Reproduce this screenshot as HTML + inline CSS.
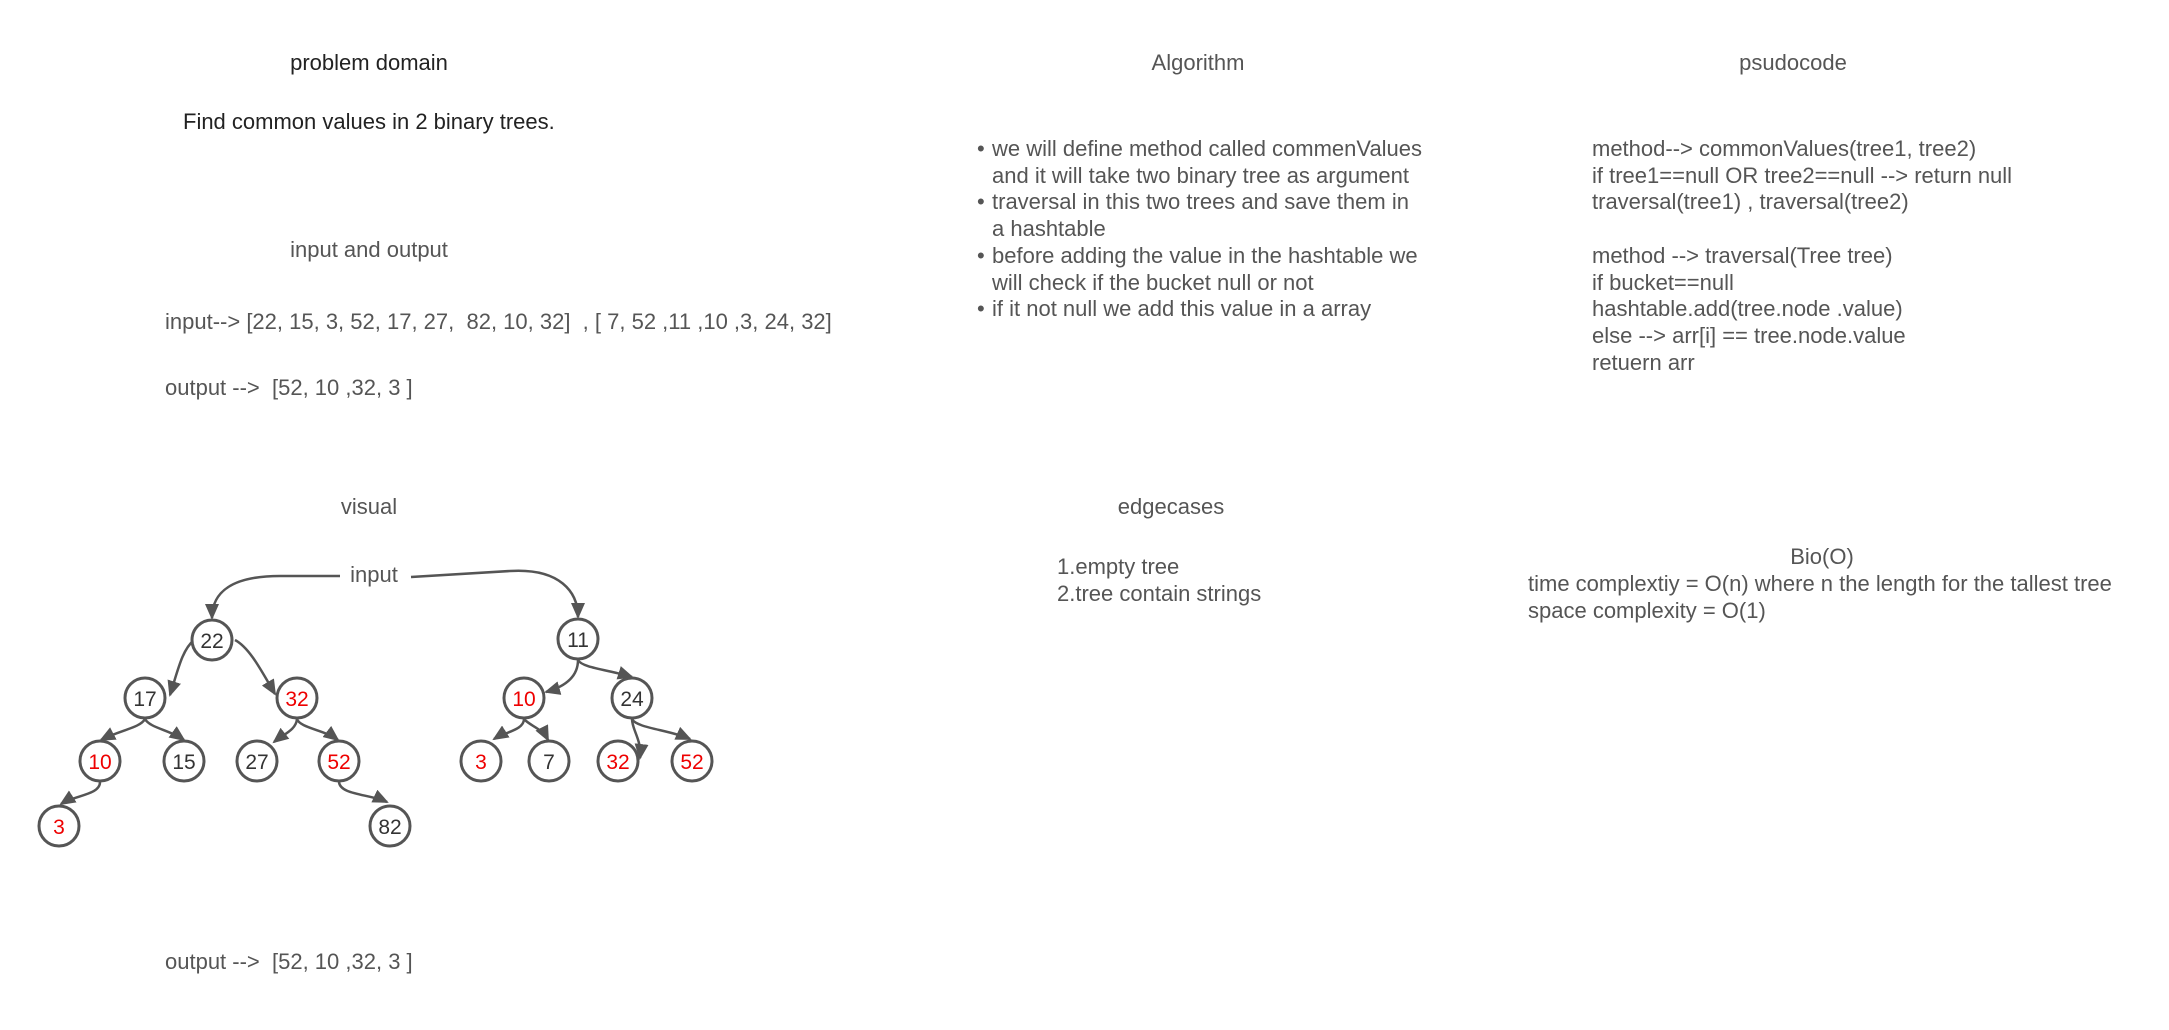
<!DOCTYPE html>
<html><head><meta charset="utf-8"><style>
html,body{margin:0;padding:0;background:#fff;width:2169px;height:1030px;overflow:hidden;position:relative;font-family:"Liberation Sans",sans-serif;}
.t{position:absolute;font-size:22px;color:#555;white-space:pre;line-height:26.7px;}
.c{transform:translateX(-50%);}
.d{color:#222;}
</style></head><body>
<div class="t c d" style="left:369px;top:50px">problem domain</div>
<div class="t d" style="left:183px;top:109px">Find common values in 2 binary trees.</div>
<div class="t c" style="left:369px;top:237px">input and output</div>
<div class="t" style="left:165px;top:309px">input--&gt; [22, 15, 3, 52, 17, 27,  82, 10, 32]  , [ 7, 52 ,11 ,10 ,3, 24, 32]</div>
<div class="t" style="left:165px;top:375px">output --&gt;  [52, 10 ,32, 3 ]</div>
<div class="t c" style="left:369px;top:494px">visual</div>
<div class="t" style="left:165px;top:949px">output --&gt;  [52, 10 ,32, 3 ]</div>
<div class="t c" style="left:1198px;top:50px">Algorithm</div>
<div class="t" style="left:977px;top:136px">•
 
•
 
•
 
•</div>
<div class="t" style="left:992px;top:136px">we will define method called commenValues
and it will take two binary tree as argument
traversal in this two trees and save them in
a hashtable
before adding the value in the hashtable we
will check if the bucket null or not
if it not null we add this value in a array</div>
<div class="t c" style="left:1793px;top:50px">psudocode</div>
<div class="t" style="left:1592px;top:136px">method--&gt; commonValues(tree1, tree2)
if tree1==null OR tree2==null --&gt; return null
traversal(tree1) , traversal(tree2)

method --&gt; traversal(Tree tree)
if bucket==null
hashtable.add(tree.node .value)
else --&gt; arr[i] == tree.node.value
retuern arr</div>
<div class="t c" style="left:1171px;top:494px">edgecases</div>
<div class="t" style="left:1057px;top:554px">1.empty tree
2.tree contain strings</div>
<div class="t c" style="left:1822px;top:544px">Bio(O)</div>
<div class="t" style="left:1528px;top:571px">time complextiy = O(n) where n the length for the tallest tree
space complexity = O(1)</div>

<svg width="2169" height="1030" style="position:absolute;left:0;top:0" xmlns="http://www.w3.org/2000/svg">
<defs><marker id="a" markerUnits="userSpaceOnUse" markerWidth="16" markerHeight="14" refX="14" refY="7" orient="auto"><path d="M0,0 L16,7 L0,14 z" fill="#555"/></marker></defs>
<g fill="none" stroke="#555" stroke-width="2.5" marker-end="url(#a)">
<path d="M340 576 L280 576 C232 576 212 592 212 618"/>
<path d="M411 577 L510 571 C560 568 578 592 578 617"/>
<path d="M194 640 C182 650 178 670 170 695"/>
<path d="M235 640 C250 648 262 672 275 694"/>
<path d="M145 719 C140 728 120 730 101 740"/>
<path d="M145 719 C150 728 170 730 184 740"/>
<path d="M297 719 C296 730 284 734 274 742"/>
<path d="M297 719 C300 728 325 730 338 740"/>
<path d="M100 782 C100 795 75 795 61 804"/>
<path d="M339 782 C340 795 370 794 387 802"/>
<path d="M578 660 C578 680 560 688 546 692"/>
<path d="M578 660 C582 668 610 670 632 677"/>
<path d="M524 719 C524 730 505 732 494 739"/>
<path d="M524 719 C530 726 542 728 548 740"/>
<path d="M632 719 C632 730 642 740 640 758"/>
<path d="M632 719 C636 728 670 730 690 739"/>
</g>
<g stroke="#555" stroke-width="3" fill="#fff">
<circle cx="212" cy="640" r="20"/><circle cx="145" cy="698" r="20"/><circle cx="297" cy="698" r="20"/>
<circle cx="100" cy="761" r="20"/><circle cx="184" cy="761" r="20"/><circle cx="257" cy="761" r="20"/><circle cx="339" cy="761" r="20"/>
<circle cx="59" cy="826" r="20"/><circle cx="390" cy="826" r="20"/>
<circle cx="578" cy="639" r="20"/><circle cx="524" cy="698" r="20"/><circle cx="632" cy="698" r="20"/>
<circle cx="481" cy="761" r="20"/><circle cx="549" cy="761" r="20"/><circle cx="618" cy="761" r="20"/><circle cx="692" cy="761" r="20"/>
</g>
<g font-family="Liberation Sans, sans-serif" font-size="21" text-anchor="middle" fill="#333">
<text x="212" y="648">22</text><text x="145" y="706">17</text><text x="297" y="706" fill="#e00">32</text>
<text x="100" y="769" fill="#e00">10</text><text x="184" y="769">15</text><text x="257" y="769">27</text><text x="339" y="769" fill="#e00">52</text>
<text x="59" y="834" fill="#e00">3</text><text x="390" y="834">82</text>
<text x="578" y="647">11</text><text x="524" y="706" fill="#e00">10</text><text x="632" y="706">24</text>
<text x="481" y="769" fill="#e00">3</text><text x="549" y="769">7</text><text x="618" y="769" fill="#e00">32</text><text x="692" y="769" fill="#e00">52</text>
<text x="374" y="582" fill="#555" font-size="22">input</text>
</g>
</svg>
</body></html>
